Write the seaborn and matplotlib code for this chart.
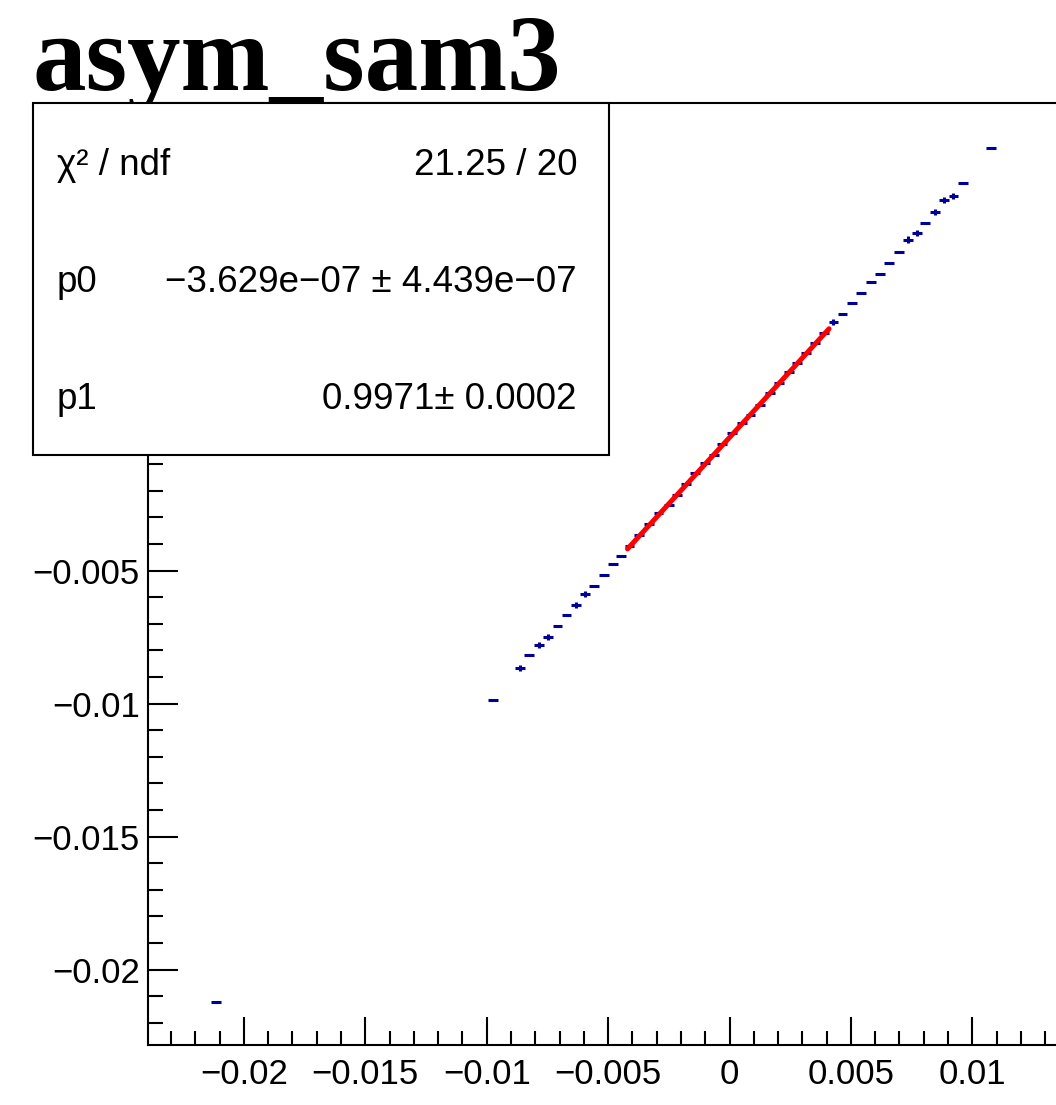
import numpy as np
import pandas as pd
import seaborn as sns
import matplotlib.pyplot as plt
from matplotlib.ticker import MultipleLocator, FuncFormatter
from matplotlib.patches import Rectangle

# profile points (x bin centre, mean y)
x_vals = [-0.02115, -0.00973, -0.00863, -0.00825, -0.00785, -0.00748, -0.00709, -0.00671,
          -0.00633, -0.00594, -0.00557, -0.00517, -0.00479, -0.00446,
          -0.00412, -0.00374, -0.00333, -0.00292, -0.00250, -0.00216, -0.00178, -0.00141,
          -0.00100, -0.00065, -0.00031, 0.00010, 0.00052, 0.00086, 0.00127, 0.00166,
          0.00203, 0.00244, 0.00278, 0.00316, 0.00353, 0.00389,
          0.00428, 0.00465, 0.00505, 0.00543, 0.00582, 0.00620, 0.00658, 0.00697,
          0.00735, 0.00771, 0.00806, 0.00845, 0.00883, 0.00922, 0.00961, 0.01076]
y_vals = [-0.02122, -0.00988, -0.00867, -0.00819, -0.00781, -0.00750, -0.00709, -0.00668,
          -0.00629, -0.00588, -0.00557, -0.00517, -0.00477, -0.00447,
          -0.00407, -0.00367, -0.00325, -0.00285, -0.00254, -0.00216, -0.00176, -0.00135,
          -0.00097, -0.00066, -0.00024, 0.00016, 0.00053, 0.00085, 0.00122, 0.00166,
          0.00206, 0.00247, 0.00279, 0.00317, 0.00356, 0.00393,
          0.00434, 0.00464, 0.00505, 0.00544, 0.00586, 0.00616, 0.00656, 0.00696,
          0.00744, 0.00768, 0.00806, 0.00847, 0.00894, 0.00909, 0.00956, 0.01090]
y_errs = [0.00003, 0.00003, 0.00012, 0.00003, 0.00012, 0.00012, 0.00003, 0.00003,
          0.00012, 0.00012, 0.00003, 0.00003, 0.00003, 0.00003,
          0.00003, 0.00003, 0.00003, 0.00003, 0.00003, 0.00003, 0.00003, 0.00003,
          0.00003, 0.00003, 0.00003, 0.00003, 0.00003, 0.00003, 0.00003, 0.00003,
          0.00003, 0.00003, 0.00003, 0.00003, 0.00003, 0.00003,
          0.00012, 0.00003, 0.00003, 0.00003, 0.00003, 0.00003, 0.00003, 0.00003,
          0.00012, 0.00012, 0.00003, 0.00012, 0.00012, 0.00012, 0.00003, 0.00003]
half_bin = 0.0002

# fit result (pol1) and its range
p0 = -3.629e-07
p1 = 0.9971
fit_range = [-0.0042, 0.0041]

stat_labels = ["χ² / ndf", "p0", "p1"]
stat_values = ["21.25 / 20", "−3.629e−07 ± 4.439e−07", "0.9971± 0.0002"]

sns.set_style("ticks")
plt.rcParams['font.family'] = ['Liberation Sans', 'DejaVu Sans']
plt.rcParams['text.color'] = 'black'
plt.rcParams['xtick.color'] = 'black'
plt.rcParams['ytick.color'] = 'black'
plt.rcParams['axes.edgecolor'] = 'black'

W, H = 1056, 1105
fig = plt.figure(figsize=(W / 100, H / 100), dpi=100)
ax = fig.add_axes([148 / W, 60 / H, (W - 148) / W, 942 / H])

ax.errorbar(x_vals, y_vals, xerr=half_bin, yerr=y_errs, fmt='none',
            ecolor='#000099', elinewidth=2.2, capsize=0, zorder=2)

fit = pd.DataFrame({'x': fit_range})
fit['y'] = p0 + p1 * fit['x']
sns.lineplot(data=fit, x='x', y='y', color='#ff0000', linewidth=3.6, ax=ax, zorder=3)

ax.set_xlim(-0.02395, 0.013447)
ax.set_ylim(-0.022838, 0.012575)
ax.set_xlabel('')
ax.set_ylabel('')

def fmt(v, pos):
    if abs(v) < 1e-12:
        return '0'
    return f'{v:g}'.replace('-', '\u2212')

def fmt_y(v, pos):
    # labels at 0 and above sit under the stats box
    if v > -0.001:
        return ''
    return fmt(v, pos)

for axis in (ax.xaxis, ax.yaxis):
    axis.set_major_locator(MultipleLocator(0.005))
    axis.set_minor_locator(MultipleLocator(0.001))
ax.xaxis.set_major_formatter(FuncFormatter(fmt))
ax.yaxis.set_major_formatter(FuncFormatter(fmt_y))

ax.tick_params(which='both', direction='in', width=1.5, color='black',
               labelcolor='black', labelsize=25, top=False, right=False)
ax.tick_params(axis='x', which='major', length=20, pad=9)
ax.tick_params(axis='x', which='minor', length=10)
ax.tick_params(axis='y', which='major', length=21.5, pad=6)
ax.tick_params(axis='y', which='minor', length=11)

ax.spines['right'].set_visible(False)
for s in ('left', 'bottom', 'top'):
    ax.spines[s].set_linewidth(1.5)
    ax.spines[s].set_color('black')

# title
fig.text(33 / W, 1 - 90 / H, 'asym_sam3', fontfamily='Liberation Serif',
         fontweight='bold', fontsize=77, va='baseline', ha='left', color='black')

# stats box
box = Rectangle((33 / W, 1 - 455 / H), (609 - 33) / W, (455 - 103) / H,
                transform=fig.transFigure, facecolor='white', edgecolor='black',
                linewidth=1.5, zorder=5)
fig.add_artist(box)
row_h = (455 - 103) / 3
for i, (lab, val) in enumerate(zip(stat_labels, stat_values)):
    yb = 1 - (103 + row_h * (i + 0.5) + 13) / H
    fig.text(57 / W, yb, lab, fontsize=26.5, va='baseline', ha='left', zorder=6, color='black')
    fig.text(577 / W, yb, val, fontsize=26.5, va='baseline', ha='right', zorder=6, color='black')

fig.savefig('out.png', dpi=100)
